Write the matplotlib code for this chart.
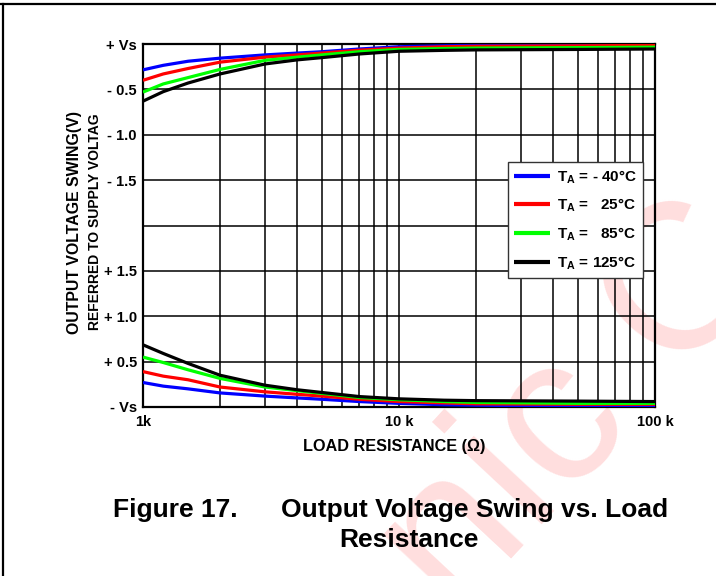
import numpy as np
import matplotlib.pyplot as plt
from matplotlib.lines import Line2D

plt.rcParams["font.family"] = ["Liberation Sans", "DejaVu Sans"]
plt.rcParams["font.weight"] = "bold"
plt.rcParams["mathtext.fontset"] = "custom"
plt.rcParams["mathtext.rm"] = "Liberation Sans:bold"
plt.rcParams["mathtext.bf"] = "Liberation Sans:bold"

# load resistance (kOhm)
r_load = [1, 1.2, 1.5, 2, 3, 4, 5, 7, 10, 15, 20, 50, 100]

# swing below +Vs (V)
high_m40 = [0.285, 0.235, 0.19, 0.156, 0.12, 0.10, 0.085, 0.055, 0.03, 0.02, 0.015, 0.01, 0.005]
high_25 = [0.40, 0.33, 0.27, 0.20, 0.145, 0.12, 0.10, 0.068, 0.045, 0.03, 0.025, 0.02, 0.015]
high_85 = [0.53, 0.44, 0.37, 0.28, 0.18, 0.145, 0.12, 0.085, 0.06, 0.05, 0.045, 0.04, 0.035]
high_125 = [0.63, 0.525, 0.43, 0.33, 0.22, 0.175, 0.15, 0.11, 0.08, 0.07, 0.065, 0.06, 0.055]

# swing above -Vs (V)
low_m40 = [0.27, 0.23, 0.20, 0.155, 0.12, 0.10, 0.085, 0.06, 0.04, 0.025, 0.02, 0.01, 0.01]
low_25 = [0.39, 0.34, 0.30, 0.22, 0.167, 0.14, 0.12, 0.085, 0.06, 0.045, 0.035, 0.03, 0.03]
low_85 = [0.55, 0.49, 0.41, 0.315, 0.22, 0.18, 0.15, 0.105, 0.08, 0.06, 0.05, 0.04, 0.04]
low_125 = [0.685, 0.59, 0.48, 0.35, 0.24, 0.19, 0.16, 0.115, 0.09, 0.075, 0.07, 0.065, 0.06]

labels = [r"T$_{\mathrm{A}}$ = - 40°C", r"T$_{\mathrm{A}}$ =   25°C",
          r"T$_{\mathrm{A}}$ =   85°C", r"T$_{\mathrm{A}}$ = 125°C"]
colors = ["#0000ff", "#ff0000", "#00ff00", "#000000"]

ytick_labels = ["- Vs", "+ 0.5", "+ 1.0", "+ 1.5", "", "- 1.5", "- 1.0", "- 0.5", "+ Vs"]
xtick_labels = ["1k", "10 k", "100 k"]

fig = plt.figure(figsize=(7.16, 5.76), dpi=100)

# watermark
fig.text(0.635, -0.075, "nic Co", rotation=47, rotation_mode="anchor",
         fontsize=150, color="#ffdede", family="Liberation Sans",
         weight="normal", ha="left", va="baseline", zorder=-5)

ax = fig.add_axes([143 / 716, 1 - 407 / 576, 512 / 716, 363 / 576])
ax.set_facecolor("none")

for hi, lo, c, lab in zip([high_m40, high_25, high_85, high_125],
                          [low_m40, low_25, low_85, low_125], colors, labels):
    ax.plot(r_load, 8 - 2 * np.array(hi), color=c, lw=2.3, label=lab,
            solid_capstyle="butt", zorder=3)
    ax.plot(r_load, 2 * np.array(lo), color=c, lw=2.3, solid_capstyle="butt",
            zorder=3)

ax.set_xscale("log")
ax.set_xlim(1, 100)
ax.set_ylim(0, 8)
ax.set_xticks([1, 10, 100])
ax.set_xticklabels(xtick_labels)
ax.set_xticks([2, 3, 4, 5, 6, 7, 8, 9, 20, 30, 40, 50, 60, 70, 80, 90], minor=True)
ax.set_yticks(range(9))
ax.set_yticklabels(ytick_labels)
ax.grid(True, which="both", color="black", lw=1.1)
ax.tick_params(which="both", length=0)
ax.tick_params(axis="y", labelsize=10.5, pad=4.5)
ax.tick_params(axis="x", labelsize=10.5, pad=6)
for s in ax.spines.values():
    s.set_linewidth(1.6)

leg = ax.legend(loc="upper right", bbox_to_anchor=(0.977, 0.675), fontsize=11,
                frameon=True, fancybox=False, edgecolor="#333333", framealpha=1,
                handlelength=2.35, labelspacing=0.72, borderpad=0.4,
                handletextpad=0.45, borderaxespad=0)
leg.get_frame().set_linewidth(1.0)
for h in leg.get_lines():
    h.set_linewidth(3)

fig.text(75 / 716, 1 - 223 / 576, "OUTPUT VOLTAGE SWING(V)", rotation=90,
         ha="center", va="center", fontsize=11.4)
fig.text(95 / 716, 1 - 222 / 576, "REFERRED TO SUPPLY VOLTAG", rotation=90,
         ha="center", va="center", fontsize=10)
fig.text(394 / 716, 1 - 447 / 576, "LOAD RESISTANCE (Ω)", ha="center",
         va="center", fontsize=11.7)

fig.text(113 / 716, 1 - 510 / 576, "Figure 17.", ha="left", va="center",
         fontsize=19)
fig.text(281 / 716, 1 - 510 / 576, "Output Voltage Swing vs. Load",
         ha="left", va="center", fontsize=19)
fig.text(409 / 716, 1 - 540 / 576, "Resistance", ha="center", va="center",
         fontsize=19)

# page frame
fig.add_artist(Line2D([0, 1], [1 - 4 / 576, 1 - 4 / 576], color="black", lw=1.6))
fig.add_artist(Line2D([3 / 716, 3 / 716], [0, 1 - 4 / 576], color="black", lw=1.6))

fig.savefig("out.png", dpi=100)
